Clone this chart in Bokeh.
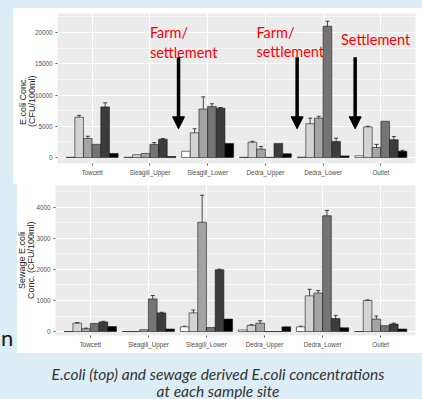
from bokeh.plotting import figure
from bokeh.models import (FactorRange, Range1d, SingleIntervalTicker, Whisker, TeeHead,
                          ColumnDataSource, Label, Arrow, NormalHead, Spacer, Div)
from bokeh.layouts import column, row
from bokeh.transform import dodge
from bokeh.embed import file_html
from bokeh.resources import INLINE

# ---------------- data ----------------
sites = ["Towcett", "Sleagill_Upper", "Sleagill_Lower", "Dedra_Upper", "Dedra_Lower", "Outlet"]

# E.coli concentration (CFU/100ml), six samples per site
ecoli_s1 = [40, 40, 1000, 30, 60, 280]
ecoli_s2 = [6450, 450, 3950, 2450, 5400, 4900]
ecoli_s3 = [3050, 650, 7750, 1350, 6300, 1600]
ecoli_s4 = [2100, 2100, 8150, 20, 21000, 5800]
ecoli_s5 = [8100, 2930, 7900, 2250, 2550, 2850]
ecoli_s6 = [650, 150, 2250, 600, 250, 1000]

ecoli_e1 = [0, 0, 0, 0, 0, 0]
ecoli_e2 = [300, 0, 650, 150, 900, 100]
ecoli_e3 = [350, 0, 1950, 400, 300, 500]
ecoli_e4 = [0, 300, 450, 0, 800, 0]
ecoli_e5 = [650, 100, 100, 0, 550, 500]
ecoli_e6 = [0, 0, 0, 0, 0, 150]

# Sewage derived E.coli concentration (CFU/100ml)
sew_s1 = [0, 0, 150, 50, 150, 0]
sew_s2 = [270, 0, 600, 200, 1150, 1000]
sew_s3 = [90, 60, 3520, 270, 1240, 400]
sew_s4 = [260, 1050, 130, 0, 3730, 190]
sew_s5 = [310, 600, 1990, 0, 420, 240]
sew_s6 = [160, 80, 400, 150, 120, 80]

sew_e1 = [0, 0, 20, 0, 20, 0]
sew_e2 = [20, 0, 90, 20, 210, 20]
sew_e3 = [20, 0, 870, 80, 80, 100]
sew_e4 = [0, 110, 0, 0, 170, 0]
sew_e5 = [20, 20, 20, 0, 100, 30]
sew_e6 = [0, 0, 0, 0, 0, 0]

ecoli_ticks = [0, 5000, 10000, 15000, 20000]
sew_ticks = [0, 1000, 2000, 3000, 4000]

ecoli_title = ["E.coli Conc.", "(CFU/100ml)"]
sew_title = ["Sewage E.coli", "Conc. (CFU/100ml)"]

# ---------------- style ----------------
BLUE = "#dcedf5"
FILLS = ["#ffffff", "#d3d3d3", "#a4a4a4", "#747474", "#3c3c3c", "#000000"]
OFFSETS = [-0.375, -0.225, -0.075, 0.075, 0.225, 0.375]
BAR_W = 0.15
AX_FONT = "Liberation Sans"


def make_chart(series, errors, ticks, width, height, yr, b_left, b_top, b_bottom):
    p = figure(x_range=FactorRange(factors=sites, range_padding=1 / 30, range_padding_units="percent"),
               y_range=Range1d(*yr), width=width, height=height,
               output_backend="svg", toolbar_location=None,
               min_border_left=b_left, min_border_right=7, min_border_top=b_top,
               min_border_bottom=b_bottom, margin=0)
    p.background_fill_color = "#ebebeb"
    p.border_fill_color = None
    p.outline_line_color = None

    for vals, errs, fill, off in zip(series, errors, FILLS, OFFSETS):
        src = ColumnDataSource(dict(site=sites, v=vals))
        p.vbar(x=dodge("site", off, range=p.x_range), top="v", width=BAR_W, source=src,
               fill_color=fill, line_color="#1a1a1a", line_width=0.6)
        es, eu, el = [], [], []
        for s, v, e in zip(sites, vals, errs):
            if e > 0:
                es.append(s); eu.append(v + e); el.append(v - e)
        if es:
            esrc = ColumnDataSource(dict(site=es, up=eu, lo=el))
            w = Whisker(base=dodge("site", off, range=p.x_range), upper="up", lower="lo", source=esrc,
                        line_color="#1a1a1a", line_width=0.8,
                        upper_head=TeeHead(size=4, line_color="#1a1a1a", line_width=0.8),
                        lower_head=TeeHead(size=4, line_color="#1a1a1a", line_width=0.8))
            p.add_layout(w)

    interval = ticks[1] - ticks[0]
    p.yaxis.ticker = SingleIntervalTicker(interval=interval, num_minor_ticks=2)
    p.ygrid.grid_line_color = "white"
    p.ygrid.grid_line_width = 1
    p.ygrid.minor_grid_line_color = "white"
    p.ygrid.minor_grid_line_width = 0.5
    p.xgrid.grid_line_color = "white"
    p.xgrid.grid_line_width = 1

    for ax in (p.xaxis, p.yaxis):
        ax.axis_line_color = None
        ax.major_tick_line_color = "#333333"
        ax.major_tick_line_width = 0.8
        ax.major_tick_out = 2
        ax.major_tick_in = 0
        ax.minor_tick_line_color = None
        ax.major_label_text_font = AX_FONT
        ax.major_label_text_font_size = "6.3px"
        ax.major_label_text_color = "#4d4d4d"
    p.xaxis.major_label_standoff = 3
    p.yaxis.major_label_standoff = 1
    p.yaxis.formatter.use_scientific = False
    return p


def ytitle_div(lines, width, height, ml, mt):
    html = ('<div style="writing-mode:vertical-rl;transform:rotate(180deg);height:150px;'
            f'margin-left:{ml}px;margin-top:{mt}px;text-align:center;font-family:\'Liberation Sans\';'
            'font-size:9px;line-height:9px;color:#222222;white-space:nowrap">'
            + "<br>".join(lines) + '</div>')
    return Div(text=html, width=width, height=height, margin=0,
               styles={"background-color": "white", "overflow": "visible"})


p1 = make_chart([ecoli_s1, ecoli_s2, ecoli_s3, ecoli_s4, ecoli_s5, ecoli_s6],
                [ecoli_e1, ecoli_e2, ecoli_e3, ecoli_e4, ecoli_e5, ecoli_e6],
                ecoli_ticks, 391, 176, (-960, 23040), 21, 5, 21)

p2 = make_chart([sew_s1, sew_s2, sew_s3, sew_s4, sew_s5, sew_s6],
                [sew_e1, sew_e2, sew_e3, sew_e4, sew_e5, sew_e6],
                sew_ticks, 389, 169, (-128, 4704), 19, 1, 18)

# ---------------- annotations on the top chart ----------------
RED = "#ff0000"
ann_font = "Lato"
for txt, x, y in [("Farm/", 1.50, 20050), ("settlement", 1.50, 16880),
                  ("Farm/", 3.345, 20050), ("settlement", 3.345, 16950),
                  ("Settlement", 4.81, 18830)]:
    p1.add_layout(Label(x=x, y=y, text=txt, text_color=RED, text_font=ann_font,
                        text_font_size="14.5px", text_baseline="alphabetic", text_align="left"))

for xa in [1.996, 4.05, 5.055]:
    p1.add_layout(Arrow(x_start=xa, y_start=16050, x_end=xa, y_end=4590,
                        line_color="black", line_width=3.5,
                        end=NormalHead(size=12, fill_color="black", line_color="black", line_width=1)))

# ---------------- layout ----------------
def blue_spacer(w, h):
    return Spacer(width=w, height=h, margin=0, styles={"background-color": BLUE})

n_div = Div(text='<div style="margin-top:143px;margin-left:1px;font-family:Lato;font-size:22px;'
                 'line-height:22px;color:#1a1a1a">n</div>',
            width=17, height=169, margin=0, styles={"background-color": BLUE, "overflow": "hidden"})

caption = Div(text='<div style="width:422px;box-sizing:border-box;padding-left:14px;padding-top:13px;'
                   'text-align:center;font-family:Lato;font-style:italic;font-size:15.5px;'
                   'line-height:17px;color:#333333;white-space:nowrap">'
                   'E.coli (top) and sewage derived E.coli concentrations<br>at each sample site</div>',
              width=422, height=46, margin=0, styles={"background-color": BLUE})

layout = column(
    blue_spacer(422, 8),
    row(blue_spacer(13, 176), ytitle_div(ecoli_title, 18, 176, 5.5, 18), p1,
        margin=0, styles={"background-color": "white"}),
    row(n_div, ytitle_div(sew_title, 16, 169, 0.5, 1), p2,
        margin=0, styles={"background-color": "white"}),
    caption,
    margin=0,
    styles={"background-color": BLUE},
)

open("out.html", "w").write(file_html(layout, INLINE))
